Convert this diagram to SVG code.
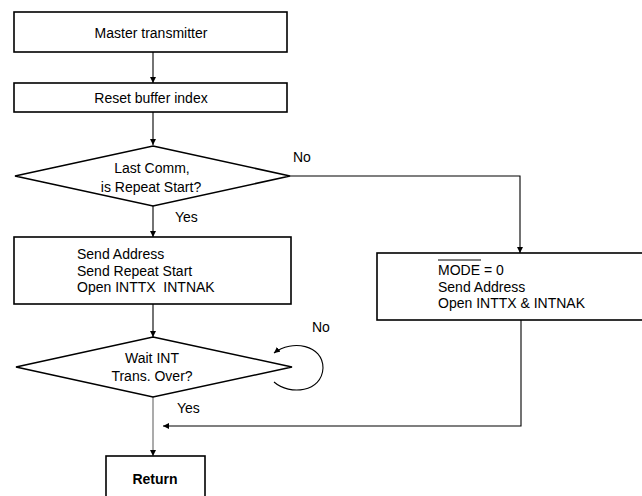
<svg xmlns="http://www.w3.org/2000/svg" width="642" height="496" viewBox="0 0 642 496">
<style>
.box{fill:#fff;stroke:#000;stroke-width:1.6}
.t{font-family:"Liberation Sans",Arial,sans-serif;font-size:14px;fill:#000}
.c{text-anchor:middle}
.b{font-weight:bold}
.ln{fill:none;stroke:#000;stroke-width:1.1}
</style>
<defs>
<marker id="ah" viewBox="0 0 10 10" refX="10" refY="5" markerWidth="6" markerHeight="7" markerUnits="userSpaceOnUse" orient="auto">
<path d="M0,0 L10,5 L0,10 Z" fill="#000"/>
</marker>
</defs>
<g id="connectors">
<line class="ln" x1="153" y1="52" x2="153" y2="83" marker-end="url(#ah)"/>
<line class="ln" x1="153" y1="112" x2="153" y2="145" marker-end="url(#ah)"/>
<polyline class="ln" points="290,176 520,176 520,253" marker-end="url(#ah)"/>
<line class="ln" x1="153" y1="206" x2="153" y2="237" marker-end="url(#ah)"/>
<line class="ln" x1="153" y1="304" x2="153" y2="337" marker-end="url(#ah)"/>
<path class="ln" d="M274,382 C290,396 322,392 323,368 C323,345 292,339 274,353" marker-end="url(#ah)"/>
<line class="ln" x1="153" y1="397" x2="153" y2="456" style="stroke:#666" marker-end="url(#ah)"/>
<polyline class="ln" points="521,320 521,426 163,426" marker-end="url(#ah)"/>
<text class="t" x="293" y="162">No</text>
<text class="t" x="175" y="222">Yes</text>
<text class="t" x="312" y="332">No</text>
<text class="t" x="177" y="413">Yes</text>
</g>
<g id="n1">
<rect class="box" x="14" y="12" width="273" height="40"/>
<text class="t c" x="151" y="38">Master transmitter</text>
</g>
<g id="n2">
<rect class="box" x="14" y="83" width="273" height="29"/>
<text class="t c" x="151" y="103">Reset buffer index</text>
</g>
<g id="d1">
<polygon class="box" points="153,146 290,176 153,206 15,176"/>
<text class="t c" x="152" y="173">Last Comm,</text>
<text class="t c" x="151" y="192">is Repeat Start?</text>
</g>
<g id="n3">
<rect class="box" x="14" y="237" width="277" height="67"/>
<text class="t" x="77" y="259">Send Address</text>
<text class="t" x="77" y="276">Send Repeat Start</text>
<text class="t" x="77" y="292">Open INTTX&#160; INTNAK</text>
</g>
<g id="n4">
<rect class="box" x="377" y="253" width="280" height="67"/>
<text class="t" x="438" y="275">MODE = 0</text>
<line x1="438" y1="260" x2="481" y2="260" stroke="#000" stroke-width="1"/>
<text class="t" x="438" y="292">Send Address</text>
<text class="t" x="438" y="308">Open INTTX &amp; INTNAK</text>
</g>
<g id="d2">
<polygon class="box" points="153,337 292,367 153,397 16,367"/>
<text class="t c" x="152" y="363">Wait INT</text>
<text class="t c" x="152" y="381">Trans. Over?</text>
</g>
<g id="n5">
<rect class="box" x="106" y="456" width="99" height="50"/>
<text class="t c b" x="155" y="484">Return</text>
</g>
</svg>
